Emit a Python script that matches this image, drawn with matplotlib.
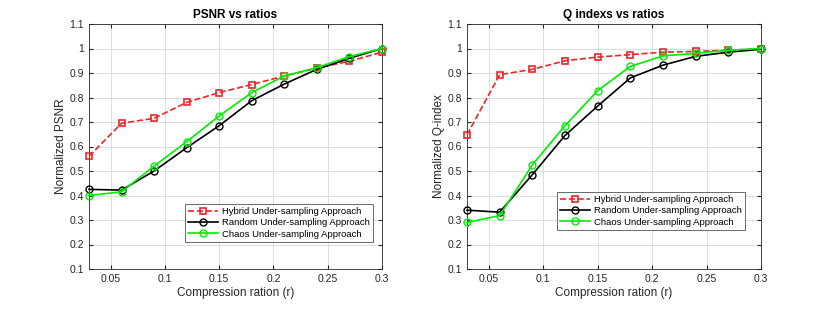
import matplotlib.pyplot as plt
import numpy as np

# compression ratios (x axis)
ratios = [0.03, 0.06, 0.09, 0.12, 0.15, 0.18, 0.21, 0.24, 0.27, 0.30]

psnr_hybrid = [0.56, 0.695, 0.715, 0.78, 0.82, 0.853, 0.888, 0.92, 0.948, 0.985]
psnr_random = [0.425, 0.422, 0.50, 0.595, 0.685, 0.787, 0.855, 0.915, 0.96, 1.0]
psnr_chaos  = [0.40, 0.415, 0.52, 0.62, 0.725, 0.82, 0.888, 0.922, 0.967, 1.0]

q_hybrid = [0.648, 0.893, 0.915, 0.95, 0.965, 0.975, 0.985, 0.988, 0.993, 0.998]
q_random = [0.34, 0.332, 0.485, 0.645, 0.765, 0.88, 0.932, 0.968, 0.985, 0.997]
q_chaos  = [0.29, 0.318, 0.525, 0.685, 0.828, 0.927, 0.97, 0.98, 0.993, 1.0]

labels = ["Hybrid Under-sampling Approach",
          "Random Under-sampling Approach",
          "Chaos Under-sampling Approach"]

xticks = [0.05, 0.1, 0.15, 0.2, 0.25, 0.3]
xticklabels = ["0.05", "0.1", "0.15", "0.2", "0.25", "0.3"]
yticks = [0.1, 0.2, 0.3, 0.4, 0.5, 0.6, 0.7, 0.8, 0.9, 1.0, 1.1]
yticklabels = ["0.1", "0.2", "0.3", "0.4", "0.5", "0.6", "0.7", "0.8", "0.9", "1", "1.1"]

plt.rcParams["font.family"] = ["Liberation Sans", "DejaVu Sans"]
ink = "#262626"

fig = plt.figure(figsize=(8.17, 3.11), dpi=100)
W, H = 817, 311
ax1 = fig.add_axes([89 / W, 1 - 269 / H, (382 - 89) / W, (269 - 24) / H])
ax2 = fig.add_axes([467 / W, 1 - 269 / H, (761 - 467) / W, (269 - 24) / H])

def draw(ax, hyb, rnd, chs, title, ylabel, legend_anchor):
    ax.plot(ratios, hyb, "--s", color="#e8282b", lw=1.2, ms=4.5,
            mfc="none", mew=1.2, label=labels[0], clip_on=False, zorder=3)
    ax.plot(ratios, rnd, "-o", color="black", lw=1.2, ms=5,
            mfc="none", mew=1.0, label=labels[1], clip_on=False, zorder=3)
    ax.plot(ratios, chs, "-o", color="#00ee00", lw=1.2, ms=5,
            mfc="none", mew=1.0, label=labels[2], clip_on=False, zorder=3)
    ax.set_xlim(0.03, 0.3)
    ax.set_ylim(0.1, 1.1)
    ax.set_xticks(xticks)
    ax.set_xticklabels(xticklabels)
    ax.set_yticks(yticks)
    ax.set_yticklabels(yticklabels)
    ax.grid(True, color="#dcdcdc", lw=0.7)
    ax.set_axisbelow(True)
    ax.tick_params(direction="in", length=3, labelsize=7.5, colors=ink,
                   top=True, right=True, labeltop=False, labelright=False)
    for s in ax.spines.values():
        s.set_color(ink)
        s.set_linewidth(0.6)
    ax.set_title(title, fontsize=8.5, fontweight="bold", color="black", pad=4)
    ax.set_xlabel("Compression ration (r)", fontsize=8.5, color=ink, labelpad=2)
    ax.set_ylabel(ylabel, fontsize=8.5, color=ink, labelpad=2)
    leg = ax.legend(loc="lower right", bbox_to_anchor=legend_anchor,
                    fontsize=6.8, frameon=True, fancybox=False, numpoints=1,
                    handlelength=3.2, borderpad=0.35, labelspacing=0.25,
                    handletextpad=0.4, borderaxespad=0)
    leg.get_frame().set_edgecolor(ink)
    leg.get_frame().set_linewidth(0.6)

# legend boxes: left plot right edge x=373, bottom y=242; right plot 745, 230
draw(ax1, psnr_hybrid, psnr_random, psnr_chaos, "PSNR vs ratios",
     "Normalized PSNR", ((373 - 89) / (382 - 89), (269 - 242) / (269 - 24)))
draw(ax2, q_hybrid, q_random, q_chaos, "Q indexs vs ratios",
     "Normalized Q-index", ((745 - 467) / (761 - 467), (269 - 230) / (269 - 24)))

fig.savefig("out.png", dpi=100, facecolor="white")
